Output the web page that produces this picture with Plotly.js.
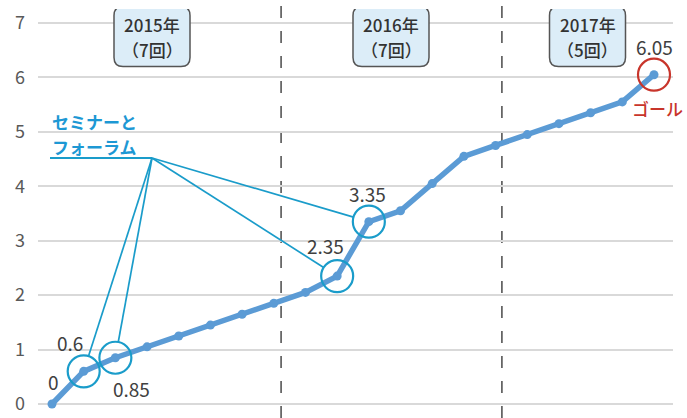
<!DOCTYPE html>
<html><head><meta charset="utf-8">
<script src="https://cdn.plot.ly/plotly-3.0.1.min.js"></script>
<style>html,body{margin:0;padding:0;background:#fff}#chart{width:687px;height:418px}</style>
</head><body><div id="chart"></div>
<script>
// ---- data ----
const sessions = [0,1,2,3,4,5,6,7,8,9,10,11,12,13,14,15,16,17,18,19];
const cumulative = [0,0.6,0.85,1.05,1.25,1.45,1.65,1.85,2.05,2.35,3.35,3.55,4.05,4.55,4.75,4.95,5.15,5.35,5.55,6.05];
const yearNames = ['2015年','2016年','2017年'];
const yearCounts = ['（7回）','（7回）','（5回）'];
const yearBoundaries = [7.23, 14.2];
const seminarIdx = [1,2,9,10];
const labeledIdx = [0,1,2,9,10,19];
const goalIdx = 19;
const goalLabel = 'ゴール';
const seminarLabel = ['セミナーと','フォーラム'];
const yTicks = [0,1,2,3,4,5,6,7];

// ---- geometry ----
const W=687,H=418,ML=38,MR=14,MT=9,MB=0;
const PW=W-ML-MR, PH=H-MT-MB;
const xr=[-0.442,19.6], yr=[-0.257,7.257];
const toPx=i=>ML+(i-xr[0])/(xr[1]-xr[0])*PW;
const toPy=v=>MT+(yr[1]-v)/(yr[1]-yr[0])*PH;
const fx=p=>xr[0]+(p-ML)/PW*(xr[1]-xr[0]);
const fy=p=>yr[1]-(p-MT)/PH*(yr[1]-yr[0]);

const FONT='"Noto Sans CJK JP", "Noto Sans", sans-serif';
const BLUE='#5b9bd5', TEAL='#1a9cca', RED='#c8352b', TXT='#404040';

const shapes=[]; const annotations=[];
// year boundaries (dashed)
yearBoundaries.forEach(b=>shapes.push({type:'line',xref:'x',yref:'paper',x0:b,x1:b,y0:0,y1:1.01,layer:'below',
  line:{color:'#4a4a4a',width:1.5,dash:'12px,13px'}}));

// year boxes
const boxCenters=[[152,36.5],[391,36.5],[587.5,36.5]];
function rrect(w,h,r){const a=w/2,b=h/2;
  return `M ${-a+r},${-b} L ${a-r},${-b} Q ${a},${-b} ${a},${-b+r} L ${a},${b-r} Q ${a},${b} ${a-r},${b} L ${-a+r},${b} Q ${-a},${b} ${-a},${b-r} L ${-a},${-b+r} Q ${-a},${-b} ${-a+r},${-b} Z`;}
yearNames.forEach((t,k)=>{
  const [cx,cy]=boxCenters[k];
  shapes.push({type:'path',xref:'x',yref:'y',xsizemode:'pixel',ysizemode:'pixel',xanchor:fx(cx),yanchor:fy(cy),
    path:rrect(76,60,9),fillcolor:'#dcedf8',line:{color:'#555',width:1.5}});
  annotations.push({xref:'x',yref:'y',x:fx(cx),y:fy(cy-12),text:t,showarrow:false,
    font:{family:FONT,size:17,color:'#333',weight:500}});
  annotations.push({xref:'x',yref:'y',x:fx(cx),y:fy(cy+13),text:yearCounts[k],showarrow:false,
    font:{family:FONT,size:17,color:'#333',weight:500}});
});

// seminar label + leader lines
const hub=[152,158];
annotations.push({xref:'x',yref:'y',x:fx(50),y:fy(121),xanchor:'left',text:seminarLabel[0],showarrow:false,font:{family:FONT,size:17,color:'#1d98d4',weight:600}});
annotations.push({xref:'x',yref:'y',x:fx(50),y:fy(146),xanchor:'left',text:seminarLabel[1],showarrow:false,font:{family:FONT,size:17,color:'#1d98d4',weight:600}});
shapes.push({type:'line',xref:'x',yref:'y',x0:fx(50),x1:fx(hub[0]),y0:fy(hub[1]),y1:fy(hub[1]),line:{color:TEAL,width:2.2}});
const R=16;
seminarIdx.forEach(i=>{
  const cx=toPx(sessions[i]), cy=toPy(cumulative[i]);
  const dx=hub[0]-cx, dy=hub[1]-cy, d=Math.hypot(dx,dy);
  const ex=cx+dx/d*R, ey=cy+dy/d*R;
  shapes.push({type:'line',xref:'x',yref:'y',x0:fx(hub[0]),y0:fy(hub[1]),x1:fx(ex),y1:fy(ey),line:{color:TEAL,width:1.7}});
  shapes.push({type:'circle',xref:'x',yref:'y',xsizemode:'pixel',ysizemode:'pixel',xanchor:sessions[i],yanchor:cumulative[i],
    x0:-R,x1:R,y0:-R,y1:R,line:{color:TEAL,width:2.2}});
});
// goal circle
shapes.push({type:'circle',xref:'x',yref:'y',xsizemode:'pixel',ysizemode:'pixel',xanchor:sessions[goalIdx],yanchor:cumulative[goalIdx],
  x0:-R,x1:R,y0:-R,y1:R,line:{color:RED,width:2.2}});

// value labels
const offsets={0:[1,23],1:[-14,29],2:[16,-31],9:[-12,31],10:[-1,28],19:[1,28]};
labeledIdx.forEach(i=>{
  annotations.push({xref:'x',yref:'y',x:sessions[i],y:cumulative[i],xshift:offsets[i][0],yshift:offsets[i][1],
    text:String(cumulative[i]),showarrow:false,font:{family:FONT,size:19,color:TXT}});
});
annotations.push({xref:'x',yref:'y',x:sessions[goalIdx],y:cumulative[goalIdx],xshift:4,yshift:-34,text:goalLabel,showarrow:false,
  font:{family:FONT,size:17,color:RED,weight:500}});

const trace={x:sessions,y:cumulative,type:'scatter',mode:'lines+markers',cliponaxis:false,hoverinfo:'skip',
  line:{color:BLUE,width:5.5},marker:{color:BLUE,size:9}};

const layout={width:W,height:H,margin:{l:ML,r:MR,t:MT,b:MB,pad:0},paper_bgcolor:'#fff',plot_bgcolor:'#fff',showlegend:false,
  xaxis:{range:xr,visible:false,fixedrange:true},
  yaxis:{range:yr,tickvals:yTicks,showgrid:true,gridcolor:'#d9d9d9',gridwidth:2,zeroline:false,showline:false,ticks:'',
    ticklabelstandoff:12,tickfont:{family:FONT,size:18,color:'#595959'},fixedrange:true},
  shapes:shapes,annotations:annotations,font:{family:FONT}};
Plotly.newPlot('chart',[trace],layout,{displayModeBar:false,staticPlot:true});
</script></body></html>
